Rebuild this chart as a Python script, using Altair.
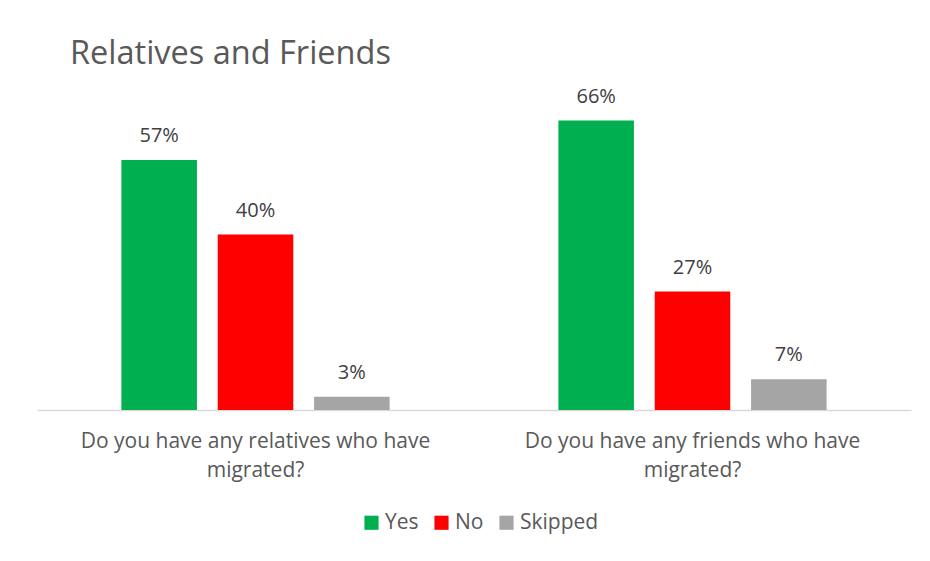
import altair as alt
import pandas as pd

questions = ["Do you have any relatives who have|migrated?",
             "Do you have any friends who have|migrated?"]
series = ["Yes", "No", "Skipped"]
yes_vals = [57, 66]
no_vals = [40, 27]
skipped_vals = [3, 7]
colors = ["#00B050", "#FF0000", "#A5A5A5"]

rows = []
for i, q in enumerate(questions):
    for s, vals in zip(series, [yes_vals, no_vals, skipped_vals]):
        rows.append({"question": q, "series": s, "value": vals[i],
                     "label": f"{vals[i]}%"})
df = pd.DataFrame(rows)

FONT = "Open Sans"

base = alt.Chart(df).encode(
    x=alt.X("question:N", sort=questions,
            scale=alt.Scale(paddingInner=0, paddingOuter=0),
            axis=alt.Axis(title=None, labelAngle=0, ticks=False,
                          domainColor="#D9D9D9", domainWidth=1.3,
                          labelExpr="split(datum.label, '|')",
                          labelFont=FONT, labelFontSize=21, labelColor="#595959",
                          labelLineHeight=29, labelPadding=20, labelLimit=600)),
    xOffset=alt.XOffset("series:N", sort=series,
                        scale=alt.Scale(paddingInner=0.216, paddingOuter=0.876)),
    y=alt.Y("value:Q", scale=alt.Scale(domain=[0, 70]), axis=None),
)

bars = base.mark_bar().encode(
    color=alt.Color("series:N", sort=series,
                    scale=alt.Scale(domain=series, range=colors),
                    legend=alt.Legend(title=None, orient="none", direction="horizontal",
                                      legendX=324, legendY=409,
                                      symbolType="square", symbolSize=200,
                                      symbolStrokeWidth=0,
                                      labelFont=FONT, labelFontSize=21,
                                      labelColor="#595959", columnPadding=12,
                                      labelOffset=3))
)

labels = base.mark_text(baseline="bottom", dy=-14, font=FONT, fontSize=20,
                        color="#404040").encode(text="label:N")

chart = alt.layer(bars, labels).properties(
    width=874, height=307,
    title=alt.Title("Relatives and Friends", anchor="start", frame="group",
                    dx=33, offset=16, font=FONT, fontSize=32.5,
                    fontWeight="normal", color="#595959"),
    autosize=alt.AutoSizeParams(type="none"),
    padding={"left": 29, "top": 95, "right": 7, "bottom": 143},
).configure(background="white", view=alt.ViewConfig(strokeWidth=0))

chart.save("out.html", embed_options={"renderer": "svg", "actions": False})
